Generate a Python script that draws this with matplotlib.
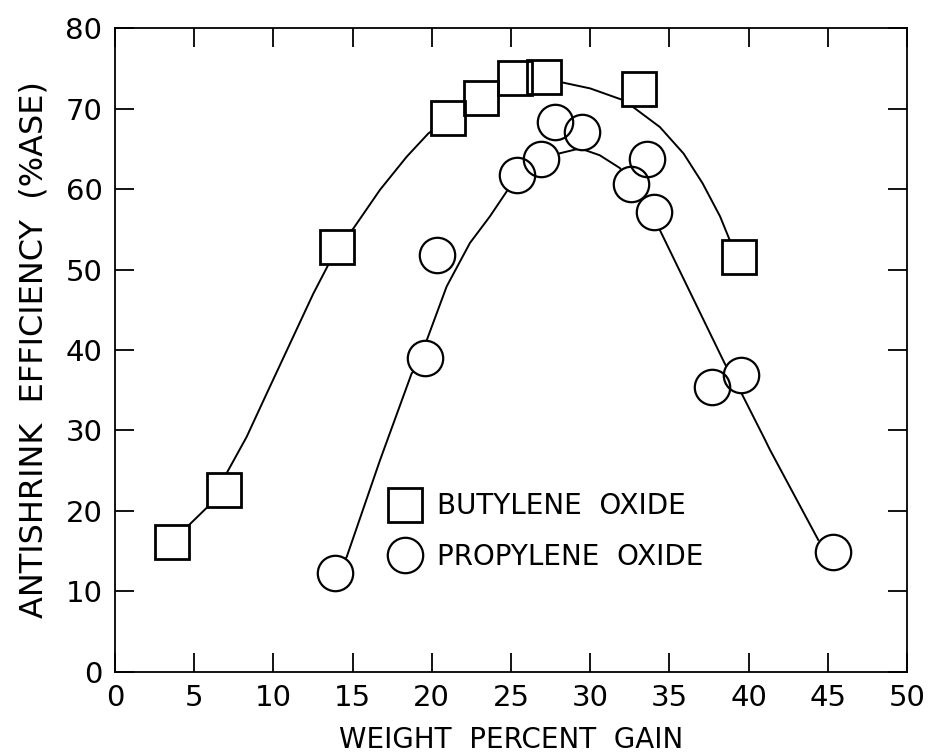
import matplotlib
matplotlib.use("Agg")
import matplotlib.pyplot as plt
import numpy as np

bo_x = [3.6, 6.9, 14.0, 21.0, 23.1, 25.25, 27.1, 33.1, 39.4]
bo_y = [16.2, 22.6, 52.8, 68.8, 71.3, 73.75, 73.9, 72.4, 51.5]

po_x = [13.9, 19.6, 20.3, 25.4, 26.9, 27.8, 29.5, 32.6, 33.6, 34.0, 37.7, 39.5, 45.3]
po_y = [12.3, 39.0, 51.8, 61.8, 63.7, 68.3, 67.1, 60.6, 63.7, 57.2, 35.4, 36.9, 14.9]

# hand drawn fit curves
bo_curve_x = [3.6, 6.94, 7.05, 8.31, 9.58, 11.05, 12.52, 13.47, 14.0, 15.05, 16.73,
              18.41, 19.78, 21.05, 23.1, 25.2, 27.1, 28.1, 30.0, 32.0, 32.7, 34.4,
              35.9, 37.1, 38.2, 38.8, 39.4]
bo_curve_y = [16.2, 22.6, 24.7, 29.2, 34.6, 40.8, 47.0, 50.6, 52.8, 55.1, 59.9,
              64.0, 66.9, 68.8, 71.3, 73.6, 73.8, 73.3, 72.5, 71.1, 70.2, 67.7,
              64.4, 60.7, 56.6, 53.7, 51.5]

po_curve_x = [13.9, 14.63, 16.73, 18.73, 19.57, 19.68, 20.94, 22.41, 23.67, 24.73,
              25.3, 26.9, 28.0, 29.36, 30.6, 31.88, 32.55, 34.03, 34.4, 36.5, 38.5,
              39.56, 41.0, 41.35, 44.4]
po_curve_y = [12.3, 14.3, 26.3, 37.1, 39.0, 41.2, 47.9, 53.3, 56.6, 59.7,
              61.9, 63.5, 64.4, 65.05, 64.2, 62.6, 60.5, 57.2, 54.9, 46.4, 38.3,
              34.6, 29.0, 27.6, 16.4]

plt.rcParams["font.family"] = ["DejaVu Sans"]

fig = plt.figure(figsize=(9.31, 7.54), dpi=100)
ax = fig.add_axes([0.1235, 0.1088, 0.8507, 0.854])

# fit curves
ax.plot(bo_curve_x, bo_curve_y, color="black", lw=1.4, zorder=2)
ax.plot(po_curve_x, po_curve_y, color="black", lw=1.4, zorder=2)

# white fills hide the curves inside the symbols, outlines drawn on top
ax.plot(bo_x, bo_y, ls="none", marker="s", ms=24, mfc="white", mec="none", zorder=3)
ax.plot(po_x, po_y, ls="none", marker="o", ms=25.5, mfc="white", mec="none", zorder=3)
ax.plot(bo_x, bo_y, ls="none", marker="s", ms=24, mfc="none", mec="black", mew=2.0,
        zorder=4, label="BUTYLENE  OXIDE")
ax.plot(po_x, po_y, ls="none", marker="o", ms=25.5, mfc="none", mec="black", mew=1.6,
        zorder=4, label="PROPYLENE  OXIDE")

ax.set_xlim(0, 50)
ax.set_ylim(0, 80)
ax.set_xticks(np.arange(0, 51, 5))
ax.set_yticks(np.arange(0, 81, 10))

ax.tick_params(direction="in", length=14, width=1.3, labelsize=21,
               top=True, right=True, pad=9)
for s in ax.spines.values():
    s.set_linewidth(1.3)

ax.set_xlabel("WEIGHT  PERCENT  GAIN", fontsize=20, labelpad=10)
ax.set_ylabel("ANTISHRINK  EFFICIENCY  (%ASE)", fontsize=23)
ax.yaxis.set_label_coords(-0.083, 0.5)

ax.legend(loc="upper left", bbox_to_anchor=(0.3455, 0.279), frameon=False,
          fontsize=20, handlelength=1.2, handletextpad=0.55, labelspacing=0.8,
          borderpad=0, borderaxespad=0)

fig.savefig("out.png", dpi=100)
